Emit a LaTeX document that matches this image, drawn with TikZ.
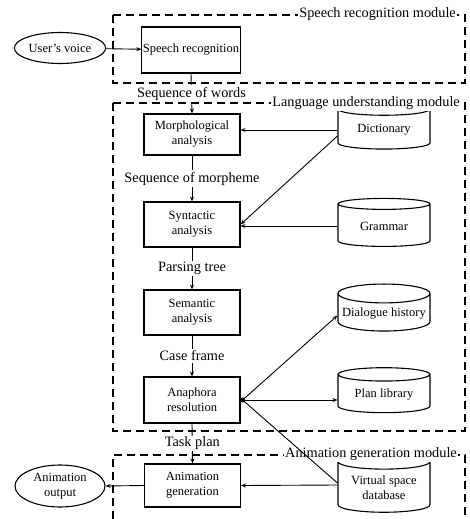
\documentclass[tikz,border=0pt]{standalone}
\usepackage{fontspec}
\setmainfont{Liberation Serif}
\usetikzlibrary{shapes.geometric,arrows.meta}
\begin{document}
\begin{tikzpicture}[x=1pt,y=-1pt,
  every node/.style={inner sep=1pt},
  boxfont/.style={font=\fontsize{12.5}{15}\selectfont},
  lblfont/.style={font=\fontsize{14.3}{16}\selectfont},
  procbox/.style={draw,line width=1.1pt,boxfont,align=center,minimum width=96pt},
  oval/.style={draw,line width=1.1pt,ellipse,boxfont,align=center,minimum width=90pt},
  dbcyl/.style={draw,line width=1.1pt,cylinder,shape border rotate=90,aspect=0.22,boxfont,align=center,minimum width=92pt},
  modframe/.style={line width=1.2pt,dash pattern=on 8pt off 5pt},
  modlabel/.style={lblfont,fill=white,anchor=east,inner xsep=1pt},
  flowlabel/.style={lblfont,fill=white,inner sep=1.5pt},
  link/.style={line width=0.9pt},
  arr/.style={link,-{Stealth[length=5pt,width=4pt]}}
]
\useasboundingbox (0,0) rectangle (469,519);
% module frames
\draw[modframe] (113,15) rectangle (465,83);
\draw[modframe] (113,103) rectangle (465,431);
\draw[modframe] (113,519) -- (113,455) -- (465,455) -- (465,519);
% process nodes
\node[oval,minimum height=31pt] (voice) at (60,48) {User's voice};
\node[procbox,minimum height=46pt] (sr) at (191,50) {Speech recognition};
\node[procbox,minimum height=41pt] (morph) at (192,134.5) {Morphological\\analysis};
\node[procbox,minimum height=45pt] (syn) at (192,224.5) {Syntactic\\analysis};
\node[procbox,minimum height=45pt] (sem) at (192,312.5) {Semantic\\analysis};
\node[procbox,minimum height=46pt] (ana) at (192,400) {Anaphora\\resolution};
\node[procbox,minimum height=43pt] (anim) at (192.5,485.5) {Animation\\generation};
\node[oval,minimum height=42pt] (aout) at (60,486) {Animation\\output};
% databases
\node[dbcyl,minimum height=46pt] (dict) at (384,130) {Dictionary};
\node[dbcyl,minimum height=48pt] (gram) at (384,226) {Grammar};
\node[dbcyl,minimum height=47pt] (dial) at (384,313.5) {Dialogue history};
\node[dbcyl,minimum height=45pt] (plan) at (384,394.5) {Plan library};
\node[dbcyl,minimum height=58pt] (virt) at (384,488) {Virtual space\\database};
% module labels
\node[modlabel] (lsr) at (457,14) {Speech recognition module};
\node[modlabel] (llu) at (461,103) {Language understanding module};
\node[modlabel] (lag) at (458,454) {Animation generation module};
% main flow
\draw[arr] (voice) -- (sr);
\draw[arr] (sr.south) -- node[flowlabel] {Sequence of words} (morph.north);
\draw[arr] (morph.south) -- node[flowlabel] {Sequence of morpheme} (syn.north);
\draw[arr] (syn.south) -- node[flowlabel] {Parsing tree} (sem.north);
\draw[arr] (sem.south) -- node[flowlabel] {Case frame} (ana.north);
\draw[arr] (ana.south) -- node[flowlabel] {Task plan} (anim.north);
\draw[arr] (anim.west) -- (aout.east);
% database links
\draw[arr] (dict.west) -- (morph.east |- dict.west);
\draw[arr] ([yshift=-6pt]dict.west) -- (syn.east);
\draw[arr] (gram.west) -- (syn.east |- gram.west);
\coordinate (hub) at ([xshift=2pt]ana.east);
\fill (hub) circle (2.6pt);
\draw[arr] (hub) -- ([yshift=-2pt]dial.west);
\draw[arr] (hub) -- (plan.west |- hub);
\draw[link] (hub) -- ([yshift=5pt]virt.west);
\draw[arr] ([yshift=3pt]virt.west) -- (anim.east |- anim.center);
\end{tikzpicture}
\end{document}
